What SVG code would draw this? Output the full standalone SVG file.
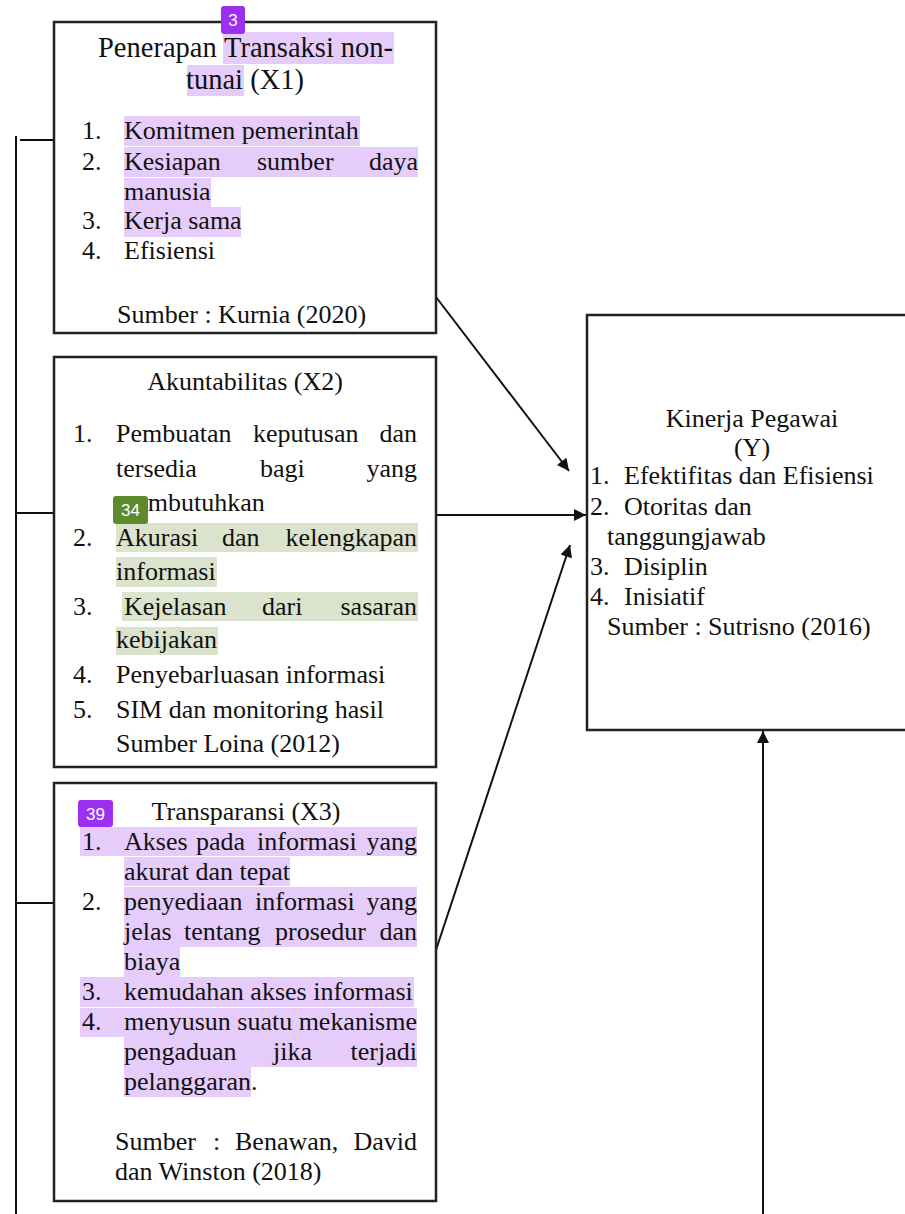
<svg xmlns="http://www.w3.org/2000/svg" width="905" height="1214" viewBox="0 0 905 1214">
<style>
.t{font-family:'Liberation Serif','Times New Roman',serif;font-size:26px;fill:#111}
.big{font-size:28.5px}
.box{fill:#fff;stroke:#222;stroke-width:2.5}
.c{text-anchor:middle}
.hp{fill:#e6ccfb}
.hg{fill:#dbe3cc}
.conn{stroke:#111;stroke-width:2;fill:none}
.bp{fill:#9b30f0}
.bg{fill:#5f8a2c}
.bt{font-family:'Liberation Sans',Arial,sans-serif;font-size:17px;fill:#fff;text-anchor:middle}
</style>
<defs>
<marker id="ah" viewBox="0 0 10 10" refX="10" refY="5" markerWidth="15" markerHeight="12" markerUnits="userSpaceOnUse" orient="auto">
<path d="M0,0 L10,5 L0,10 z" fill="#111"/>
</marker>
</defs>

<g id="connectors">
<line class="conn" x1="16" y1="136" x2="16" y2="1214"/>
<line class="conn" x1="20" y1="140" x2="54" y2="140"/>
<line class="conn" x1="16" y1="513" x2="54" y2="513"/>
<line class="conn" x1="16" y1="903" x2="54" y2="903"/>
<line class="conn" x1="436" y1="297" x2="569" y2="471" marker-end="url(#ah)"/>
<line class="conn" x1="436" y1="515" x2="586" y2="515" marker-end="url(#ah)"/>
<line class="conn" x1="436" y1="950" x2="570" y2="545" marker-end="url(#ah)"/>
<line class="conn" x1="763" y1="1214" x2="763" y2="731" marker-end="url(#ah)"/>
</g>

<g id="x1">
<rect class="box" x="54" y="22" width="382" height="311"/>
<rect class="hp" x="223" y="32" width="171" height="32"/>
<rect class="hp" x="187" y="65" width="57" height="31"/>
<rect class="hp" x="124" y="116" width="236" height="30"/>
<rect class="hp" x="124" y="147" width="294" height="30"/>
<rect class="hp" x="124" y="178" width="87" height="29"/>
<rect class="hp" x="124" y="207" width="117" height="30"/>
<text class="t big" y="57"><tspan x="98">Penerapan</tspan><tspan x="224">Transaksi</tspan><tspan x="393" text-anchor="end">non-</tspan></text>
<text class="t big c" x="245" y="89">tunai (X1)</text>
<text class="t" x="82" y="139">1.</text><text class="t" x="124" y="139">Komitmen pemerintah</text>
<text class="t" x="82" y="170">2.</text><text class="t" y="170"><tspan x="124">Kesiapan</tspan><tspan x="257">sumber</tspan><tspan x="418" text-anchor="end">daya</tspan></text>
<text class="t" x="124" y="200">manusia</text>
<text class="t" x="82" y="229">3.</text><text class="t" x="124" y="229">Kerja sama</text>
<text class="t" x="82" y="259">4.</text><text class="t" x="124" y="259">Efisiensi</text>
<text class="t" x="117" y="323">Sumber : Kurnia (2020)</text>
<rect class="bp" x="221" y="6" width="24" height="28" rx="3"/>
<text class="bt" x="233" y="26">3</text>
</g>

<g id="x2">
<rect class="box" x="54" y="357" width="382" height="410"/>
<rect class="hg" x="116" y="523" width="302" height="29"/>
<rect class="hg" x="116" y="557" width="101" height="30"/>
<rect class="hg" x="122" y="592" width="296" height="29"/>
<rect class="hg" x="116" y="627" width="102" height="28"/>
<text class="t c" x="245" y="390">Akuntabilitas (X2)</text>
<text class="t" x="73" y="442">1.</text><text class="t" y="442"><tspan x="116">Pembuatan</tspan><tspan x="253">keputusan</tspan><tspan x="417" text-anchor="end">dan</tspan></text>
<text class="t" y="477"><tspan x="116">tersedia</tspan><tspan x="260">bagi</tspan><tspan x="417" text-anchor="end">yang</tspan></text>
<text class="t" x="116" y="511">membutuhkan</text>
<text class="t" x="73" y="546">2.</text><text class="t" y="546"><tspan x="116">Akurasi</tspan><tspan x="222">dan</tspan><tspan x="417" text-anchor="end">kelengkapan</tspan></text>
<text class="t" x="116" y="580">informasi</text>
<text class="t" x="73" y="615">3.</text><text class="t" y="615"><tspan x="124">Kejelasan</tspan><tspan x="262">dari</tspan><tspan x="417" text-anchor="end">sasaran</tspan></text>
<text class="t" x="116" y="648">kebijakan</text>
<text class="t" x="73" y="683">4.</text><text class="t" x="116" y="683">Penyebarluasan informasi</text>
<text class="t" x="73" y="718">5.</text><text class="t" x="116" y="718">SIM dan monitoring hasil</text>
<text class="t" x="116" y="752">Sumber Loina (2012)</text>
<rect class="bg" x="113" y="496" width="35" height="28" rx="3"/>
<text class="bt" x="130.5" y="516">34</text>
</g>

<g id="x3">
<rect class="box" x="54" y="783" width="382" height="418"/>
<rect class="hp" x="80" y="827" width="337" height="29"/>
<rect class="hp" x="124" y="857" width="166" height="29"/>
<rect class="hp" x="124" y="887" width="293" height="29"/>
<rect class="hp" x="124" y="916" width="293" height="31"/>
<rect class="hp" x="124" y="947" width="56" height="30"/>
<rect class="hp" x="80" y="977" width="334" height="30"/>
<rect class="hp" x="80" y="1008" width="337" height="29"/>
<rect class="hp" x="124" y="1037" width="293" height="30"/>
<rect class="hp" x="124" y="1067" width="127" height="30"/>
<text class="t c" x="246" y="820">Transparansi (X3)</text>
<text class="t" x="82" y="850">1.</text><text class="t" y="850"><tspan x="124">Akses</tspan><tspan x="196">pada</tspan><tspan x="257">informasi</tspan><tspan x="417" text-anchor="end">yang</tspan></text>
<text class="t" x="124" y="880">akurat dan tepat</text>
<text class="t" x="82" y="910">2.</text><text class="t" y="910"><tspan x="124">penyediaan</tspan><tspan x="255">informasi</tspan><tspan x="417" text-anchor="end">yang</tspan></text>
<text class="t" y="940"><tspan x="124">jelas</tspan><tspan x="184">tentang</tspan><tspan x="275">prosedur</tspan><tspan x="417" text-anchor="end">dan</tspan></text>
<text class="t" x="124" y="970">biaya</text>
<text class="t" x="82" y="1000">3.</text><text class="t" x="124" y="1000">kemudahan akses informasi</text>
<text class="t" x="82" y="1030">4.</text><text class="t" x="124" y="1030" textLength="293" lengthAdjust="spacing">menyusun suatu mekanisme</text>
<text class="t" y="1060"><tspan x="124">pengaduan</tspan><tspan x="273">jika</tspan><tspan x="417" text-anchor="end">terjadi</tspan></text>
<text class="t" x="124" y="1090">pelanggaran.</text>
<text class="t" y="1150"><tspan x="115">Sumber</tspan><tspan x="213">:</tspan><tspan x="235">Benawan,</tspan><tspan x="417" text-anchor="end">David</tspan></text>
<text class="t" x="115" y="1180">dan Winston (2018)</text>
<rect class="bp" x="78" y="800" width="35" height="27" rx="3"/>
<text class="bt" x="95.5" y="820">39</text>
</g>

<g id="y">
<rect class="box" x="587" y="315" width="340" height="415"/>
<text class="t c" x="752" y="427">Kinerja Pegawai</text>
<text class="t c" x="752" y="456">(Y)</text>
<text class="t" x="590" y="484">1.</text><text class="t" x="624" y="484">Efektifitas dan Efisiensi</text>
<text class="t" x="590" y="515">2.</text><text class="t" x="624" y="515">Otoritas dan</text>
<text class="t" x="607" y="545">tanggungjawab</text>
<text class="t" x="590" y="575">3.</text><text class="t" x="624" y="575">Disiplin</text>
<text class="t" x="590" y="605">4.</text><text class="t" x="624" y="605">Inisiatif</text>
<text class="t" x="607" y="635">Sumber : Sutrisno (2016)</text>
</g>
</svg>
